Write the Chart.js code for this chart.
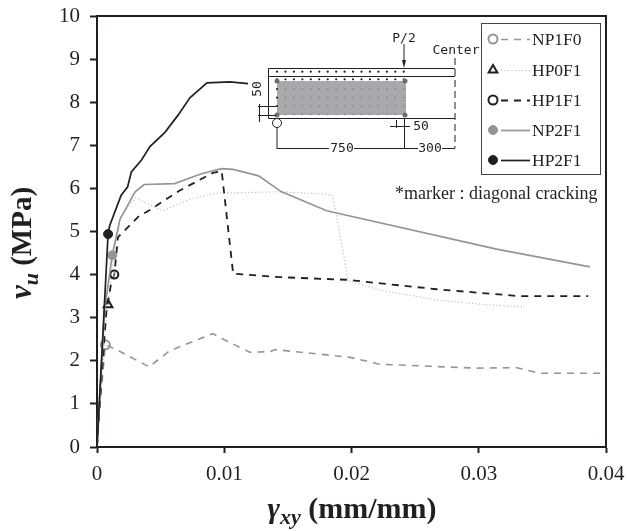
<!DOCTYPE html>
<html>
<head>
<meta charset="utf-8">
<title>Shear stress vs shear strain</title>
<script src="https://cdn.jsdelivr.net/npm/chart.js@4"></script>
<style>
    html, body { margin: 0; padding: 0; background: #fff; }
    canvas { display: block; }
</style>
</head>
<body>
<canvas id="myChart" width="627" height="531"></canvas>
<script>
const xTickLabels = ['0', '0.01', '0.02', '0.03', '0.04'];
const yTickLabels = ['0', '1', '2', '3', '4', '5', '6', '7', '8', '9', '10'];
const seriesNames = ['NP1F0', 'HP0F1', 'HP1F1', 'NP2F1', 'HP2F1'];

const np1f0X = [0, 0.00008, 0.00066, 0.00165, 0.0041, 0.0057, 0.0068, 0.0091, 0.01, 0.012, 0.0136, 0.014, 0.0199, 0.0222, 0.0298, 0.033, 0.0348, 0.04];
const np1f0Y = [0, 0.5, 2.37, 2.24, 1.86, 2.23, 2.36, 2.63, 2.49, 2.2, 2.21, 2.26, 2.08, 1.92, 1.83, 1.84, 1.71, 1.71];

const hp0f1X = [0, 0.0006, 0.00087, 0.00126, 0.0019, 0.003, 0.0052, 0.0073, 0.0093, 0.0144, 0.01844, 0.0187, 0.01975, 0.02224, 0.0267, 0.0306, 0.0336];
const hp0f1Y = [0, 2.44, 3.3, 4.37, 5.37, 5.78, 5.48, 5.75, 5.89, 5.92, 5.86, 5.58, 3.86, 3.64, 3.41, 3.3, 3.25];

const hp1f1X = [0, 0.00026, 0.00073, 0.00113, 0.00136, 0.00165, 0.00323, 0.00415, 0.0065, 0.0091, 0.0098, 0.0107, 0.0144, 0.0196, 0.0267, 0.0332, 0.0386];
const hp1f1Y = [0, 1.2, 3.13, 3.83, 4.0, 4.87, 5.34, 5.5, 5.95, 6.36, 6.4, 4.02, 3.94, 3.88, 3.66, 3.5, 3.5];

const np2f1X = [0, 0.0006, 0.0012, 0.0018, 0.003, 0.0037, 0.0061, 0.0082, 0.0098, 0.0107, 0.0127, 0.0145, 0.01805, 0.0314, 0.03874];
const np2f1Y = [0, 3.2, 4.45, 5.28, 5.92, 6.09, 6.11, 6.34, 6.46, 6.44, 6.29, 5.92, 5.48, 4.59, 4.18];

const hp2f1X = [0, 0.00087, 0.001, 0.0015, 0.0019, 0.0024, 0.0027, 0.0035, 0.00416, 0.00534, 0.00637, 0.0073, 0.00864, 0.01045, 0.01187];
const hp2f1Y = [0, 4.94, 5.14, 5.53, 5.84, 6.03, 6.38, 6.66, 6.97, 7.3, 7.7, 8.1, 8.45, 8.47, 8.43];

// index of the diagonal cracking point in each series
const crackIndex = [2, 2, 4, 2, 1];

const black = '#231f20';
const gray = '#939598';
const serif = '"Liberation Serif", serif';

function toPoints(xs, ys) {
    return xs.map((x, i) => ({ x: x, y: ys[i] }));
}

function makeSeries(i, xs, ys, color, width, dash, style, radius, fill, markWidth, markColor) {
    return {
        label: seriesNames[i],
        data: toPoints(xs, ys),
        borderColor: color,
        borderWidth: width,
        borderDash: dash,
        tension: 0,
        fill: false,
        order: 4 - i,
        pointStyle: style,
        pointRadius: (c) => c.dataIndex === crackIndex[i] ? radius : 0,
        pointHoverRadius: 0,
        pointBackgroundColor: fill,
        pointBorderColor: markColor,
        pointBorderWidth: markWidth
    };
}

function mixedLabel(ctx, parts, x, y) {
    // parts are drawn one after the other, centred on x
    let total = 0;
    parts.forEach((p) => { ctx.font = p.font; total += ctx.measureText(p.text).width; });
    let cx = x - total / 2;
    parts.forEach((p) => {
        ctx.font = p.font;
        ctx.fillText(p.text, cx, y + (p.dy || 0));
        cx += ctx.measureText(p.text).width;
    });
}

/* frame, axis titles */
const framePlugin = {
    id: 'frame',
    afterDatasetsDraw(chart) {
        const ctx = chart.ctx, a = chart.chartArea;
        ctx.save();
        ctx.strokeStyle = black;
        ctx.lineWidth = 2;
        ctx.beginPath();
        ctx.moveTo(a.left, a.top);
        ctx.lineTo(a.right, a.top);
        ctx.lineTo(a.right, a.bottom);
        ctx.stroke();

        ctx.fillStyle = black;
        ctx.textAlign = 'left';
        ctx.textBaseline = 'alphabetic';
        mixedLabel(ctx, [
            { text: 'γ', font: 'italic bold 30px ' + serif },
            { text: 'xy', font: 'italic bold 22px ' + serif, dy: 6 },
            { text: ' (mm/mm)', font: 'bold 30px ' + serif }
        ], 352, 518);

        ctx.translate(31, 243);
        ctx.rotate(-Math.PI / 2);
        mixedLabel(ctx, [
            { text: 'v', font: 'italic bold 31px ' + serif },
            { text: 'u', font: 'italic bold 22px ' + serif, dy: 7 },
            { text: ' (MPa)', font: 'bold 29px ' + serif }
        ], 0, 0);
        ctx.restore();
    }
};

/* legend box, built from the datasets */
const legendPlugin = {
    id: 'legendBox',
    afterDraw(chart) {
        const ctx = chart.ctx;
        const rowY = [39, 70, 100, 130, 160];
        ctx.save();
        ctx.fillStyle = '#fff';
        ctx.fillRect(482, 24, 119, 150);
        ctx.strokeStyle = '#444';
        ctx.lineWidth = 1;
        ctx.strokeRect(481.5, 23.5, 119, 151);

        chart.data.datasets.forEach((ds, i) => {
            const y = rowY[i];
            ctx.save();
            ctx.strokeStyle = ds.borderColor;
            ctx.lineWidth = ds.borderWidth;
            ctx.setLineDash(ds.borderDash);
            ctx.beginPath();
            ctx.moveTo(501, y + 0.5);
            ctx.lineTo(530, y + 0.5);
            ctx.stroke();
            ctx.restore();

            ctx.save();
            ctx.fillStyle = ds.pointBackgroundColor;
            ctx.strokeStyle = ds.pointBorderColor;
            ctx.lineWidth = ds.pointBorderWidth;
            Chart.helpers.drawPoint(ctx, {
                pointStyle: ds.pointStyle,
                radius: ds.pointStyle === 'triangle' ? 5 : 4.5,
                rotation: 0,
                borderWidth: ds.pointBorderWidth
            }, 493, y);
            ctx.restore();

            ctx.fillStyle = black;
            ctx.font = '17.5px ' + serif;
            ctx.textAlign = 'left';
            ctx.textBaseline = 'middle';
            ctx.fillText(ds.label, 532, y + 1);
        });

        ctx.fillStyle = black;
        ctx.font = '18px ' + serif;
        ctx.textAlign = 'left';
        ctx.textBaseline = 'alphabetic';
        ctx.fillText('*marker : diagonal cracking', 395, 199);
        ctx.restore();
    }
};

/* beam sketch in the plot */
const beamPlugin = {
    id: 'beamSketch',
    afterDatasetsDraw(chart) {
        const ctx = chart.ctx;
        const sketchFont = '13px "DejaVu Sans Mono", monospace';
        ctx.save();
        ctx.strokeStyle = black;
        ctx.fillStyle = black;
        ctx.lineWidth = 1;

        // beam outline
        ctx.beginPath();
        ctx.moveTo(455, 68.5); ctx.lineTo(268.5, 68.5); ctx.lineTo(268.5, 118.5); ctx.lineTo(455, 118.5);
        ctx.moveTo(268, 76.5); ctx.lineTo(455, 76.5);
        ctx.stroke();

        // fibre sheet
        ctx.fillStyle = '#a7a9ac';
        ctx.fillRect(277, 81, 129, 34);

        // rebar dots, two black rows on top
        ctx.fillStyle = black;
        for (let c = 0; c < 16; c++) {
            [71.7, 79.3].forEach((y) => {
                ctx.beginPath();
                ctx.arc(277 + c * 8.45, y, 1.1, 0, Math.PI * 2);
                ctx.fill();
            });
        }
        // web dots over the sheet
        [89, 97.6, 106, 114.5].forEach((y, r) => {
            for (let c = 0; c < 16; c++) {
                ctx.fillStyle = (c === 0 && r < 3) ? black : '#77787b';
                ctx.beginPath();
                ctx.arc(277 + c * 8.45, y, c === 0 ? 1.1 : 0.8, 0, Math.PI * 2);
                ctx.fill();
            }
        });
        ctx.fillStyle = '#6d6e71';
        [[277, 81], [405, 81], [277, 115], [405, 115]].forEach((p) => {
            ctx.beginPath();
            ctx.arc(p[0], p[1], 2.5, 0, Math.PI * 2);
            ctx.fill();
        });

        // support
        ctx.fillStyle = '#fff';
        ctx.beginPath();
        ctx.arc(277, 123, 4.5, 0, Math.PI * 2);
        ctx.fill();
        ctx.stroke();

        // centre line
        ctx.setLineDash([7, 4]);
        ctx.beginPath();
        ctx.moveTo(455, 58); ctx.lineTo(455, 148);
        ctx.stroke();
        ctx.setLineDash([]);

        // load arrow
        ctx.beginPath();
        ctx.moveTo(404, 44); ctx.lineTo(404, 62);
        ctx.stroke();
        ctx.fillStyle = black;
        ctx.beginPath();
        ctx.moveTo(404, 68); ctx.lineTo(402, 60); ctx.lineTo(406, 60);
        ctx.closePath();
        ctx.fill();

        // dimension lines
        ctx.beginPath();
        ctx.moveTo(277, 127); ctx.lineTo(277, 149);
        ctx.moveTo(404.5, 118); ctx.lineTo(404.5, 149);
        ctx.moveTo(277, 148.5); ctx.lineTo(329, 148.5);
        ctx.moveTo(354, 148.5); ctx.lineTo(418, 148.5);
        ctx.moveTo(442, 148.5); ctx.lineTo(455, 148.5);
        ctx.moveTo(390, 126.5); ctx.lineTo(410, 126.5);
        ctx.moveTo(396.5, 120); ctx.lineTo(396.5, 128);
        ctx.moveTo(404.5, 120); ctx.lineTo(404.5, 128);
        ctx.moveTo(258, 106.5); ctx.lineTo(276, 106.5);
        ctx.moveTo(258, 115.5); ctx.lineTo(276, 115.5);
        ctx.moveTo(259.5, 104); ctx.lineTo(259.5, 122);
        ctx.stroke();

        ctx.fillStyle = black;
        ctx.font = sketchFont;
        ctx.textBaseline = 'middle';
        ctx.textAlign = 'center';
        ctx.fillText('P/2', 404, 39);
        ctx.fillText('Center', 456, 51);
        ctx.fillText('750', 342, 149);
        ctx.fillText('300', 430, 149);
        ctx.fillText('50', 421, 127);
        ctx.translate(258, 89);
        ctx.rotate(-Math.PI / 2);
        ctx.fillText('50', 0, 0);
        ctx.restore();
    }
};

var chart = new Chart(document.getElementById('myChart'), {
    type: 'line',
    data: {
        datasets: [
            makeSeries(0, np1f0X, np1f0Y, gray, 1.6, [7, 6], 'circle', 4.5, 'rgba(255,255,255,0.3)', 2, gray),
            makeSeries(1, hp0f1X, hp0f1Y, '#b1b3b6', 1.2, [1, 2.5], 'triangle', 5, 'rgba(255,255,255,0.6)', 2, black),
            makeSeries(2, hp1f1X, hp1f1Y, black, 1.8, [7, 6], 'circle', 4, 'rgba(255,255,255,0.3)', 2, black),
            makeSeries(3, np2f1X, np2f1Y, gray, 1.7, [], 'circle', 4.5, gray, 1, gray),
            makeSeries(4, hp2f1X, hp2f1Y, black, 1.7, [], 'circle', 4.5, black, 1, black)
        ]
    },
    options: {
        responsive: false,
        animation: false,
        layout: { padding: { top: 16, right: 21, left: 0, bottom: 0 } },
        plugins: {
            legend: { display: false },
            tooltip: { enabled: false }
        },
        scales: {
            x: {
                type: 'linear',
                min: 0,
                max: 0.04,
                afterFit(scale) {
                    scale.height = 84;
                    scale.paddingLeft = 0;
                    scale.paddingRight = 0;
                },
                border: { color: black, width: 2 },
                grid: { drawOnChartArea: false, tickColor: black, tickLength: 6, tickWidth: 2 },
                ticks: {
                    stepSize: 0.01,
                    autoSkip: false,
                    maxRotation: 0,
                    padding: 9,
                    color: black,
                    font: { family: serif, size: 21 },
                    callback: (v) => xTickLabels[Math.round(v / 0.01)]
                }
            },
            y: {
                min: 0,
                max: 10,
                afterFit(scale) {
                    scale.width = 97;
                    scale.paddingTop = 0;
                    scale.paddingBottom = 0;
                },
                border: { color: black, width: 2 },
                grid: { drawOnChartArea: false, tickColor: black, tickLength: 7, tickWidth: 2 },
                ticks: {
                    stepSize: 1,
                    autoSkip: false,
                    padding: 10,
                    color: black,
                    font: { family: serif, size: 21 },
                    callback: (v) => yTickLabels[v]
                }
            }
        }
    },
    plugins: [framePlugin, beamPlugin, legendPlugin]
});
</script>
</body>
</html>
